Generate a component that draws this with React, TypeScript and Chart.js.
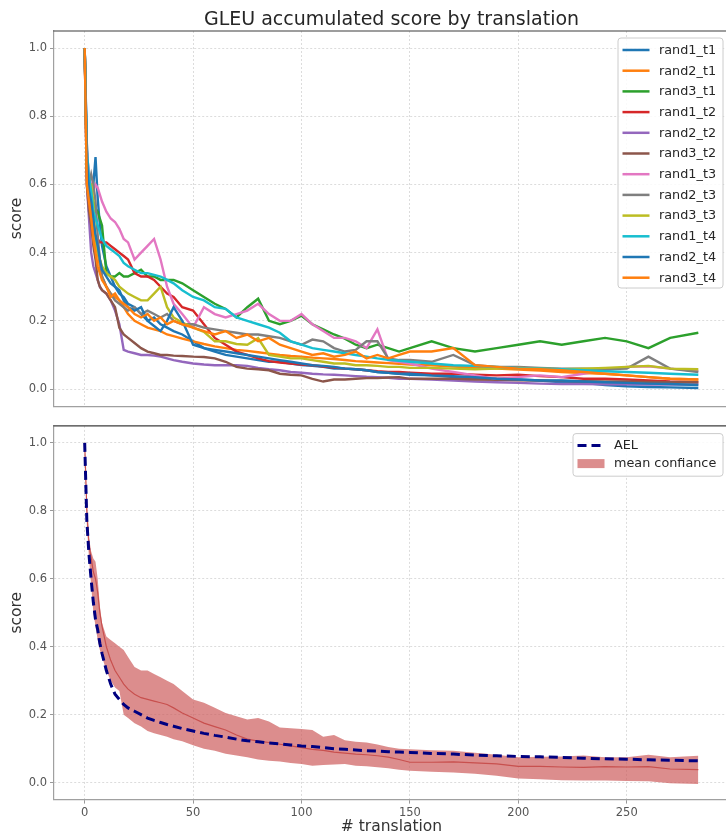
import React, { useEffect, useRef } from 'react';
import { Chart, registerables } from 'chart.js';

Chart.register(...registerables);

// ---------- data ----------
const X = [0, 1, 2, 3, 4, 5, 6, 7, 8, 10, 12, 14, 16, 18, 20, 23, 26, 29, 32, 35, 38, 41, 45, 50, 55, 60, 65, 70, 75, 80, 85, 90, 95, 100, 105, 110, 115, 120, 125, 130, 135, 140, 145, 150, 160, 170, 180, 190, 200, 210, 220, 230, 240, 250, 260, 270, 283];

const SERIES_NAMES = ['rand1_t1', 'rand2_t1', 'rand3_t1', 'rand1_t2', 'rand2_t2', 'rand3_t2', 'rand1_t3', 'rand2_t3', 'rand3_t3', 'rand1_t4', 'rand2_t4', 'rand3_t4'];

const rand1_t1 = [1.0, 0.72, 0.6, 0.55, 0.6, 0.68, 0.56, 0.48, 0.42,
  0.36, 0.33, 0.3, 0.28, 0.27, 0.25,
  0.24, 0.22, 0.2, 0.21, 0.19, 0.18, 0.17,
  0.16, 0.14, 0.12, 0.11, 0.1, 0.095, 0.09, 0.085, 0.08, 0.08, 0.075, 0.07, 0.068, 0.065, 0.06, 0.06, 0.058, 0.055, 0.05, 0.048, 0.045, 0.042,
  0.04, 0.035, 0.033, 0.03, 0.028, 0.025, 0.02, 0.018, 0.012, 0.008, 0.006, 0.005, 0.003];
const rand2_t1 = [1.0, 0.62, 0.58, 0.5, 0.45, 0.43, 0.4, 0.36, 0.33,
  0.3, 0.28, 0.27, 0.26, 0.24, 0.22,
  0.2, 0.19, 0.18, 0.175, 0.17, 0.16, 0.155,
  0.148, 0.14, 0.132, 0.125, 0.12, 0.115, 0.112, 0.108, 0.104, 0.1, 0.097, 0.095, 0.092, 0.09, 0.088, 0.085, 0.082, 0.08, 0.078, 0.076, 0.074, 0.072,
  0.07, 0.066, 0.063, 0.06, 0.057, 0.054, 0.05, 0.047, 0.045, 0.04, 0.035, 0.03, 0.028];
const rand3_t1 = [1.0, 0.66, 0.6, 0.56, 0.55, 0.53, 0.52, 0.5, 0.48,
  0.34, 0.33, 0.33, 0.34, 0.33, 0.33,
  0.34, 0.35, 0.33, 0.33, 0.32, 0.32, 0.32,
  0.31, 0.29, 0.27, 0.25, 0.235, 0.21, 0.24, 0.265, 0.2, 0.19, 0.2, 0.215, 0.19, 0.175, 0.16, 0.148, 0.13, 0.12, 0.13, 0.12, 0.11, 0.12,
  0.14, 0.12, 0.11, 0.12, 0.13, 0.14, 0.13, 0.14, 0.15, 0.14, 0.12, 0.15, 0.165];
const rand1_t2 = [1.0, 0.65, 0.55, 0.5, 0.47, 0.45, 0.44, 0.43, 0.43,
  0.43, 0.42, 0.41, 0.4, 0.39, 0.38,
  0.34, 0.33, 0.33, 0.32, 0.3, 0.28, 0.27,
  0.24, 0.23, 0.19, 0.15, 0.13, 0.11, 0.1, 0.09, 0.082, 0.078, 0.075, 0.072, 0.07, 0.066, 0.063, 0.06, 0.058, 0.055, 0.052, 0.05, 0.05, 0.048,
  0.045, 0.045, 0.042, 0.04, 0.042, 0.038, 0.035, 0.03, 0.03, 0.028, 0.025, 0.022, 0.02];
const rand2_t2 = [1.0, 0.6, 0.5, 0.4, 0.36, 0.34, 0.32, 0.3, 0.29,
  0.28, 0.26, 0.23, 0.19, 0.115, 0.11,
  0.105, 0.1, 0.1, 0.098, 0.095, 0.09, 0.085,
  0.08, 0.075, 0.072, 0.07, 0.07, 0.07, 0.068, 0.062, 0.058, 0.055, 0.05, 0.048, 0.045, 0.043, 0.042, 0.04, 0.038, 0.036, 0.035, 0.033, 0.03, 0.03,
  0.028, 0.025, 0.022, 0.02, 0.018, 0.016, 0.015, 0.015, 0.014, 0.014, 0.013, 0.013, 0.013];
const rand3_t2 = [1.0, 0.6, 0.52, 0.48, 0.42, 0.38, 0.32, 0.3, 0.29,
  0.28, 0.26, 0.24, 0.18, 0.16, 0.15,
  0.135, 0.12, 0.11, 0.105, 0.1, 0.1, 0.098,
  0.097, 0.095, 0.094, 0.09, 0.08, 0.065, 0.06, 0.058, 0.055, 0.045, 0.042, 0.04, 0.03, 0.022, 0.028, 0.028, 0.03, 0.032, 0.032, 0.034, 0.035, 0.03,
  0.03, 0.03, 0.028, 0.027, 0.026, 0.025, 0.024, 0.023, 0.022, 0.022, 0.021, 0.02, 0.02];
const rand1_t3 = [1.0, 0.7, 0.62, 0.6, 0.58, 0.6, 0.59, 0.57, 0.55,
  0.52, 0.5, 0.49, 0.47, 0.44, 0.43,
  0.38, 0.4, 0.42, 0.44, 0.38, 0.3, 0.25,
  0.22, 0.18, 0.24, 0.22, 0.21, 0.22, 0.23, 0.25, 0.22, 0.2, 0.2, 0.22, 0.19, 0.17, 0.15, 0.15, 0.14, 0.12, 0.175, 0.085, 0.08, 0.075,
  0.06, 0.05, 0.04, 0.03, 0.035, 0.04, 0.035, 0.045, 0.055, 0.065, 0.067, 0.06, 0.053];
const rand2_t3 = [1.0, 0.65, 0.6, 0.63, 0.6, 0.55, 0.45, 0.38, 0.33,
  0.3, 0.28, 0.26, 0.25, 0.24, 0.23,
  0.24, 0.22, 0.23, 0.22, 0.21, 0.22, 0.2,
  0.19, 0.19, 0.18, 0.175, 0.17, 0.165, 0.16, 0.16, 0.155, 0.15, 0.14, 0.13, 0.145, 0.14, 0.12, 0.11, 0.115, 0.14, 0.14, 0.09, 0.085, 0.085,
  0.08, 0.1, 0.07, 0.065, 0.065, 0.062, 0.06, 0.06, 0.058, 0.06, 0.095, 0.06, 0.05];
const rand3_t3 = [1.0, 0.65, 0.6, 0.6, 0.55, 0.42, 0.4, 0.38, 0.36,
  0.34, 0.33, 0.32, 0.3, 0.29, 0.28,
  0.27, 0.26, 0.26, 0.28, 0.3, 0.24, 0.21,
  0.195, 0.18, 0.168, 0.14, 0.14, 0.132, 0.13, 0.149, 0.1, 0.095, 0.09, 0.09, 0.085, 0.08, 0.075, 0.075, 0.07, 0.07, 0.068, 0.065, 0.065, 0.062,
  0.062, 0.06, 0.058, 0.06, 0.062, 0.06, 0.058, 0.06, 0.062, 0.065, 0.068, 0.06, 0.058];
const rand1_t4 = [1.0, 0.7, 0.62, 0.58, 0.52, 0.5, 0.48, 0.46, 0.44,
  0.42, 0.41, 0.4, 0.39, 0.37, 0.36,
  0.35, 0.34, 0.34, 0.335, 0.33, 0.32, 0.31,
  0.29, 0.27, 0.26, 0.24, 0.235, 0.21, 0.2, 0.19, 0.18, 0.165, 0.14, 0.13, 0.12, 0.115, 0.11, 0.105, 0.1, 0.095, 0.09, 0.086, 0.083, 0.08,
  0.075, 0.07, 0.068, 0.065, 0.061, 0.06, 0.058, 0.055, 0.052, 0.05, 0.048, 0.045, 0.042];
const rand2_t4 = [1.0, 0.68, 0.58, 0.55, 0.5, 0.45, 0.42, 0.38, 0.35,
  0.33, 0.31, 0.3, 0.29, 0.26, 0.24,
  0.23, 0.24, 0.2, 0.185, 0.17, 0.2, 0.24,
  0.2, 0.13, 0.12, 0.115, 0.11, 0.105, 0.1, 0.095, 0.09, 0.085, 0.08, 0.075, 0.07, 0.068, 0.065, 0.06, 0.058, 0.055, 0.05, 0.048, 0.045, 0.045,
  0.04, 0.038, 0.035, 0.03, 0.028, 0.025, 0.025, 0.022, 0.02, 0.018, 0.016, 0.015, 0.012];
const rand3_t4 = [1.0, 0.6, 0.55, 0.5, 0.44, 0.4, 0.36, 0.34, 0.32,
  0.3, 0.27, 0.28, 0.26, 0.25, 0.24,
  0.22, 0.21, 0.22, 0.2, 0.21, 0.19, 0.2,
  0.19, 0.18, 0.17, 0.16, 0.17, 0.15, 0.16, 0.14, 0.15, 0.13, 0.12, 0.11, 0.1, 0.105, 0.095, 0.1, 0.11, 0.09, 0.1, 0.09, 0.1, 0.11,
  0.11, 0.12, 0.07, 0.065, 0.06, 0.058, 0.055, 0.05, 0.045, 0.04, 0.035, 0.03, 0.028];

const SERIES = [rand1_t1, rand2_t1, rand3_t1, rand1_t2, rand2_t2, rand3_t2, rand1_t3, rand2_t3, rand3_t3, rand1_t4, rand2_t4, rand3_t4];

const AEL = [1.0, 0.77, 0.67, 0.596, 0.53, 0.48, 0.45, 0.41, 0.38,
  0.33, 0.29, 0.26, 0.245, 0.23, 0.22,
  0.21, 0.2, 0.19, 0.183, 0.177, 0.171, 0.166,
  0.159, 0.152, 0.145, 0.139, 0.134, 0.128, 0.123, 0.12, 0.117, 0.114, 0.111, 0.108, 0.106, 0.103, 0.1, 0.098, 0.096, 0.094, 0.093, 0.091, 0.09, 0.089,
  0.086, 0.084, 0.081, 0.079, 0.077, 0.076, 0.074, 0.072, 0.07, 0.069, 0.067, 0.066, 0.064];
const MEAN = [1.0, 0.8, 0.7, 0.66, 0.62, 0.6, 0.56, 0.5, 0.46,
  0.4, 0.36, 0.33, 0.31, 0.29, 0.275,
  0.26, 0.25, 0.245, 0.24, 0.235, 0.23, 0.22,
  0.205, 0.19, 0.175, 0.165, 0.155, 0.14, 0.128, 0.122, 0.118, 0.113, 0.108, 0.103, 0.098, 0.095, 0.09, 0.087, 0.084, 0.082, 0.079, 0.075, 0.068, 0.06,
  0.06, 0.061, 0.058, 0.055, 0.048, 0.048, 0.046, 0.045, 0.047, 0.046, 0.047, 0.04, 0.038];
const UPPER = [1.0, 0.82, 0.72, 0.68, 0.66, 0.65, 0.6, 0.52, 0.47,
  0.43, 0.42, 0.41, 0.4, 0.39, 0.37,
  0.34, 0.33, 0.33, 0.32, 0.31, 0.3, 0.29,
  0.27, 0.245, 0.235, 0.22, 0.205, 0.195, 0.186, 0.19, 0.18, 0.162, 0.16, 0.158, 0.155, 0.135, 0.14, 0.125, 0.12, 0.118, 0.112, 0.105, 0.1, 0.098,
  0.095, 0.094, 0.088, 0.082, 0.075, 0.076, 0.077, 0.08, 0.075, 0.075, 0.082, 0.075, 0.079];
const LOWER = [1.0, 0.76, 0.66, 0.58, 0.5, 0.46, 0.42, 0.39, 0.37,
  0.33, 0.3, 0.28, 0.27, 0.2, 0.19,
  0.175, 0.165, 0.152, 0.145, 0.14, 0.135, 0.128,
  0.122, 0.11, 0.1, 0.094, 0.085, 0.08, 0.075, 0.068, 0.064, 0.062, 0.058, 0.055, 0.05, 0.052, 0.053, 0.055, 0.05, 0.048, 0.045, 0.042, 0.038, 0.035,
  0.032, 0.03, 0.026, 0.02, 0.012, 0.01, 0.007, 0.006, 0.006, 0.005, 0.004, -0.002, -0.004];

const X_TICKS = [0, 50, 100, 150, 200, 250];
const Y_TICKS = [0, 0.2, 0.4, 0.6, 0.8, 1.0];
const TAB10 = ['#1f77b4', '#ff7f0e', '#2ca02c', '#d62728', '#9467bd', '#8c564b', '#e377c2', '#7f7f7f', '#bcbd22', '#17becf', '#1f77b4', '#ff7f0e'];

const TITLE = 'GLEU accumulated score by translation';
const BAND_COLOR = 'rgba(205,92,92,0.7)';

// ---------- helpers ----------
const FONT = "'DejaVu Sans', 'Liberation Sans', sans-serif";
const pts = (ys: number[]) => ys.map((y, i) => ({ x: X[i], y }));

type LegendItem = { label: string; color: string; kind: 'line' | 'dash' | 'patch' };
type LegendGeom = { dx: number; dy: number; w: number; first: number; rowH: number; tail: number };

function makeDecor(items: LegendItem[], g: LegendGeom) {
  return {
    id: 'decor',
    afterDraw(chart: any) {
      const ctx = chart.ctx as CanvasRenderingContext2D;
      const ca = chart.chartArea;
      ctx.save();
      ctx.setLineDash([]);
      ctx.strokeStyle = '#3c3c3c';
      ctx.lineWidth = 1.2;
      ctx.beginPath();
      ctx.moveTo(ca.left - 0.6, ca.top);
      ctx.lineTo(ca.right, ca.top);
      ctx.stroke();

      const bx = ca.right - g.dx - g.w;
      const by = ca.top + g.dy;
      const bh = g.first + g.rowH * (items.length - 1) + g.tail;
      const r = 3;
      ctx.beginPath();
      ctx.moveTo(bx + r, by);
      ctx.lineTo(bx + g.w - r, by);
      ctx.arcTo(bx + g.w, by, bx + g.w, by + r, r);
      ctx.lineTo(bx + g.w, by + bh - r);
      ctx.arcTo(bx + g.w, by + bh, bx + g.w - r, by + bh, r);
      ctx.lineTo(bx + r, by + bh);
      ctx.arcTo(bx, by + bh, bx, by + bh - r, r);
      ctx.lineTo(bx, by + r);
      ctx.arcTo(bx, by, bx + r, by, r);
      ctx.closePath();
      ctx.fillStyle = 'rgba(255,255,255,0.85)';
      ctx.fill();
      ctx.strokeStyle = '#cccccc';
      ctx.lineWidth = 1;
      ctx.stroke();

      ctx.font = `12.8px ${FONT}`;
      ctx.textBaseline = 'middle';
      ctx.textAlign = 'left';
      items.forEach((it, i) => {
        const cy = by + g.first + g.rowH * i;
        if (it.kind === 'patch') {
          ctx.fillStyle = it.color;
          ctx.fillRect(bx + 4.5, cy - 4.5, 27, 9);
        } else {
          ctx.strokeStyle = it.color;
          ctx.lineWidth = it.kind === 'dash' ? 3 : 2.5;
          ctx.setLineDash(it.kind === 'dash' ? [9, 5] : []);
          ctx.beginPath();
          ctx.moveTo(bx + 4.5, cy);
          ctx.lineTo(bx + 31.5, cy);
          ctx.stroke();
          ctx.setLineDash([]);
        }
        ctx.fillStyle = '#262626';
        ctx.fillText(it.label, bx + 41, cy + 0.5);
      });
      ctx.restore();
    },
  };
}

function xScale(bottom: boolean, height: number) {
  return {
    type: 'linear',
    min: -14.15,
    max: 297.15,
    afterBuildTicks: (s: any) => { s.ticks = X_TICKS.map((v) => ({ value: v })); },
    afterFit: (s: any) => { s.height = height; },
    grid: { color: '#d4d4d4', lineWidth: 0.8, drawTicks: bottom, tickLength: 4, tickColor: '#999', tickWidth: 1 },
    border: { display: true, color: '#a0a0a0', width: 1.2, dash: [2, 2] },
    ticks: { display: bottom, autoSkip: false, maxRotation: 0, padding: 3, color: '#555', font: { family: FONT, size: 11.5 } },
    title: { display: bottom, text: '# translation', color: '#333', font: { family: FONT, size: 15.5 }, padding: { top: 0, bottom: 0 } },
  };
}

function yScale() {
  return {
    type: 'linear',
    min: -0.05,
    max: 1.05,
    afterBuildTicks: (s: any) => { s.ticks = Y_TICKS.map((v) => ({ value: v })); },
    afterFit: (s: any) => { s.width = 54; },
    grid: { color: '#d4d4d4', lineWidth: 0.8, drawTicks: true, tickLength: 4, tickColor: '#999', tickWidth: 1 },
    border: { display: true, color: '#a0a0a0', width: 1.2, dash: [2, 2] },
    ticks: { autoSkip: false, padding: 3, color: '#555', font: { family: FONT, size: 11.5 }, callback: (v: any) => Number(v).toFixed(1) },
    title: { display: true, text: 'score', color: '#333', font: { family: FONT, size: 15.5 }, padding: { top: 7.5, bottom: 0 } },
  };
}

export default function App() {
  const topRef = useRef<HTMLCanvasElement>(null);
  const botRef = useRef<HTMLCanvasElement>(null);

  useEffect(() => {
    const topLegend: LegendItem[] = SERIES_NAMES.map((n, i) => ({ label: n, color: TAB10[i], kind: 'line' }));
    const top = new Chart(topRef.current as HTMLCanvasElement, {
      type: 'line',
      data: {
        datasets: SERIES.map((s, i) => ({
          label: SERIES_NAMES[i],
          data: pts(s),
          borderColor: TAB10[i],
          backgroundColor: TAB10[i],
          borderWidth: 2.4,
          pointRadius: 0,
          tension: 0,
          fill: false,
          order: SERIES.length - i,
        })),
      },
      options: {
        animation: false,
        responsive: false,
        devicePixelRatio: 1,
        layout: { padding: { left: 0, right: 11, top: 0, bottom: 0 } },
        scales: { x: xScale(false, 7.8) as any, y: yScale() as any },
        plugins: {
          legend: { display: false },
          tooltip: { enabled: false },
          title: { display: true, text: TITLE, fullSize: false, color: '#262626', font: { family: FONT, size: 19, weight: 'normal' }, padding: { top: 8.2, bottom: 0 } },
        },
      },
      plugins: [makeDecor(topLegend, { dx: 6, dy: 7, w: 105, first: 12, rowH: 20.7, tail: 10.3 })],
    } as any);

    const botLegend: LegendItem[] = [
      { label: 'AEL', color: '#000080', kind: 'dash' },
      { label: 'mean confiance', color: BAND_COLOR, kind: 'patch' },
    ];
    const bot = new Chart(botRef.current as HTMLCanvasElement, {
      type: 'line',
      data: {
        datasets: [
          { label: 'AEL', data: pts(AEL), borderColor: '#000080', borderWidth: 3, borderDash: [9, 5], pointRadius: 0, fill: false, order: 0 },
          { label: 'mean', data: pts(MEAN), borderColor: '#c8504e', borderWidth: 1.2, pointRadius: 0, fill: false, order: 1 },
          { label: 'upper', data: pts(UPPER), borderColor: 'rgba(0,0,0,0)', borderWidth: 0.5, pointRadius: 0, fill: '+1', backgroundColor: BAND_COLOR, order: 2 },
          { label: 'lower', data: pts(LOWER), borderColor: 'rgba(0,0,0,0)', borderWidth: 0.5, pointRadius: 0, fill: false, order: 2 },
        ],
      },
      options: {
        animation: false,
        responsive: false,
        devicePixelRatio: 1,
        layout: { padding: { left: 0, right: 11, top: 7, bottom: 0 } },
        scales: { x: xScale(true, 36.4) as any, y: yScale() as any },
        plugins: { legend: { display: false }, tooltip: { enabled: false }, title: { display: false } },
      },
      plugins: [makeDecor(botLegend, { dx: 6, dy: 7.7, w: 150, first: 12, rowH: 18, tail: 12.6 })],
    } as any);

    return () => {
      top.destroy();
      bot.destroy();
    };
  }, []);

  return (
    <div style={{ position: 'absolute', left: 0, top: 0, width: 726, height: 836, overflow: 'hidden', background: '#ffffff' }}>
      <canvas ref={topRef} width={740} height={416} style={{ display: 'block' }} />
      <canvas ref={botRef} width={740} height={420} style={{ display: 'block' }} />
    </div>
  );
}
